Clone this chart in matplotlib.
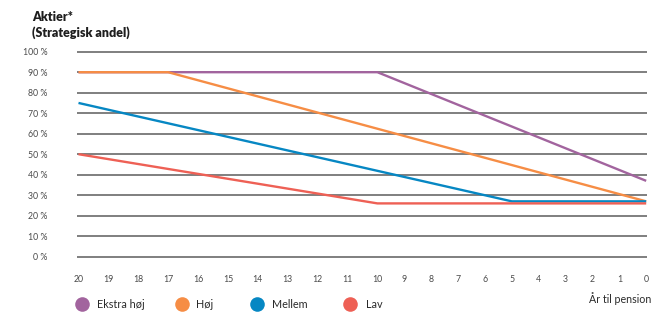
import numpy as np
import matplotlib
matplotlib.use("Agg")
import matplotlib.pyplot as plt
from matplotlib.lines import Line2D

plt.rcParams['font.family'] = ['Lato', 'DejaVu Sans']

# ---- data ----
years = [20, 19, 18, 17, 16, 15, 14, 13, 12, 11, 10, 9, 8, 7, 6, 5, 4, 3, 2, 1, 0]
series_names = ["Ekstra høj", "Høj", "Mellem", "Lav"]
ekstra_x = [20, 10, 0]
ekstra_y = [90, 90, 37]
hoej_x = [20, 17, 0]
hoej_y = [90, 90, 27]
mellem_x = [20, 5, 0]
mellem_y = [75, 27, 27]
lav_x = [20, 10, 0]
lav_y = [50, 26, 26]
yticks = [0, 10, 20, 30, 40, 50, 60, 70, 80, 90, 100]
ytick_labels = [f"{v} %" for v in yticks]
colors = ["#A2649E", "#F68D45", "#0687C3", "#EE6055"]

W, H = 671, 323
fig = plt.figure(figsize=(W / 100, H / 100), dpi=100)

# axes placement in pixels
x_left, x_right = 77, 647
y_top_px, y_bot_px = 47.6, 260.8
ax = fig.add_axes([x_left / W, 1 - y_bot_px / H, (x_right - x_left) / W, (y_bot_px - y_top_px) / H])

# piecewise x scale: years 20..10 wider than 10..0
w1, w2 = 29.8, 26.8
def fwd(v):
    v = np.asarray(v, dtype=float)
    return np.where(v <= 10, v * w2, 10 * w2 + (v - 10) * w1)
def inv(u):
    u = np.asarray(u, dtype=float)
    return np.where(u <= 10 * w2, u / w2, 10 + (u - 10 * w2) / w1)
ax.set_xscale('function', functions=(fwd, inv))
ax.set_xlim(20.05, -0.03)
ax.set_ylim(-2, 102)

for v in yticks:
    ax.axhline(v, color="#5c5c5c", lw=1.1, zorder=1)

data = [(ekstra_x, ekstra_y), (hoej_x, hoej_y), (mellem_x, mellem_y), (lav_x, lav_y)]
for (xs, ys), c in zip(data, colors):
    ax.plot(xs, ys, color=c, lw=1.7, zorder=3, solid_capstyle='butt')

for s in ax.spines.values():
    s.set_visible(False)
ax.set_xticks(years)
ax.set_xticklabels([str(y) for y in years])
ax.set_yticks(yticks)
ax.set_yticklabels(ytick_labels)
ax.tick_params(axis='both', length=0, labelsize=6.3, labelcolor="#4a4a4a")
ax.tick_params(axis='y', pad=21)
ax.tick_params(axis='x', pad=10.5)
ax.minorticks_off()

# title
fig.text(32 / W, 1 - 17 / H, "Aktier*", fontsize=9, fontweight='heavy', color="#1e1e1e", va='center', ha='left')
fig.text(32 / W, 1 - 33 / H, "(Strategisk andel)", fontsize=9, fontweight='heavy', color="#1e1e1e", va='center', ha='left')

# legend
circle_x = [82, 182, 257, 350]
text_x = [97, 196, 272, 366]
ly = 304
for name, c, cx, tx in zip(series_names, colors, circle_x, text_x):
    fig.add_artist(Line2D([cx / W], [1 - ly / H], marker='o', markersize=10.5, color=c,
                          markeredgewidth=0, transform=fig.transFigure))
    fig.text(tx / W, 1 - ly / H, name, fontsize=7.8, color="#2a2a2a", va='center', ha='left')

fig.text(651 / W, 1 - 299 / H, "År til pension", fontsize=7.7, color="#2a2a2a", va='center', ha='right')

fig.savefig("out.png", dpi=100)
